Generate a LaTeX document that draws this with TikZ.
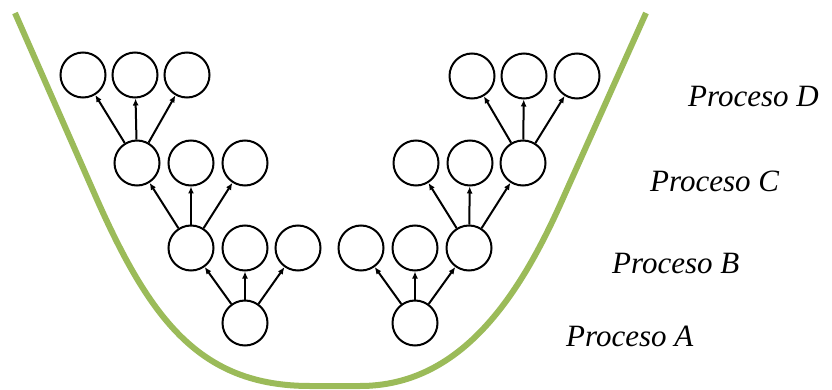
\documentclass[tikz,border=0pt]{standalone}
\usepackage{fontspec}
\setmainfont{Liberation Serif}
\usetikzlibrary{arrows.meta}
\definecolor{ugreen}{HTML}{9BBB59}
\tikzset{
  proc/.style={circle, draw=black, line width=2pt, minimum size=45pt, inner sep=0pt},
  arr/.style={-{Latex[length=7pt,width=6pt]}, line width=2pt},
  lbl/.style={anchor=base west, inner sep=0pt, font=\fontsize{31}{36}\selectfont\itshape},
  ucurve/.style={draw=ugreen, line width=6pt}
}
\begin{document}
\begin{tikzpicture}[x=1pt,y=-1pt]
\useasboundingbox (0,0) rectangle (832,390);
% green U curve
\draw[ucurve] (15,13) -- (95,195) .. controls (150,320) and (200,386) .. (310,386)
  -- (360,386) .. controls (460,386) and (518,298) .. (560,205) -- (646,13);
% left tree
\node[proc] (LA) at (245,323) {};
\node[proc] (LB1) at (191,248) {};
\node[proc] (LB2) at (245,248) {};
\node[proc] (LB3) at (298,248) {};
\node[proc] (LC1) at (137,163) {};
\node[proc] (LC2) at (191,163) {};
\node[proc] (LC3) at (245,163) {};
\node[proc] (LD1) at (83,75) {};
\node[proc] (LD2) at (135,75) {};
\node[proc] (LD3) at (187,75) {};
% right tree
\node[proc] (RA) at (415,323) {};
\node[proc] (RB1) at (361,248) {};
\node[proc] (RB2) at (415,248) {};
\node[proc] (RB3) at (469,248) {};
\node[proc] (RC1) at (416,163) {};
\node[proc] (RC2) at (470,163) {};
\node[proc] (RC3) at (523,163) {};
\node[proc] (RD1) at (472,76) {};
\node[proc] (RD2) at (524,76) {};
\node[proc] (RD3) at (577,76) {};
% arrows
\foreach \c in {LB1,LB2,LB3} \draw[arr] (LA) -- (\c);
\foreach \c in {LC1,LC2,LC3} \draw[arr] (LB1) -- (\c);
\foreach \c in {LD1,LD2,LD3} \draw[arr] (LC1) -- (\c);
\foreach \c in {RB1,RB2,RB3} \draw[arr] (RA) -- (\c);
\foreach \c in {RC1,RC2,RC3} \draw[arr] (RB3) -- (\c);
\foreach \c in {RD1,RD2,RD3} \draw[arr] (RC3) -- (\c);
% labels
\node[lbl] (PD) at (688,107) {Proceso D};
\node[lbl] (PC) at (650,192) {Proceso C};
\node[lbl] (PB) at (612,273) {Proceso B};
\node[lbl] (PA) at (566,346) {Proceso A};
\end{tikzpicture}
\end{document}
